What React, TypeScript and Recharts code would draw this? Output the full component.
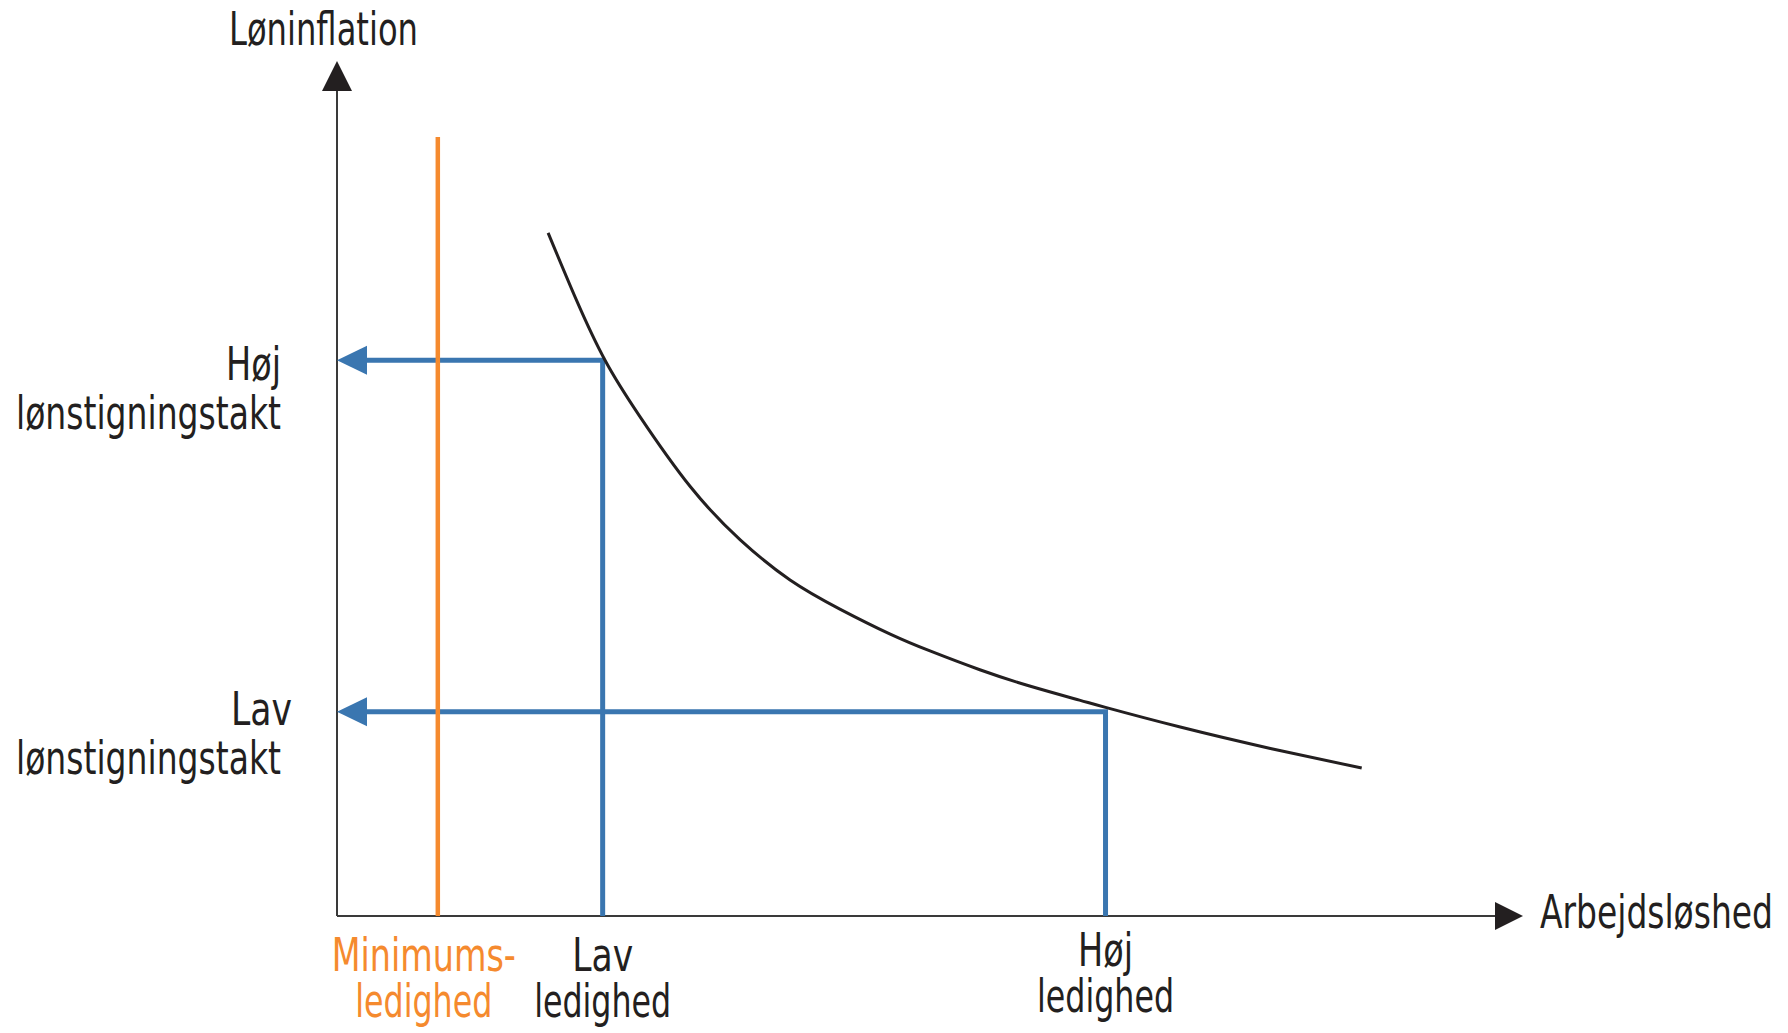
import { ComposedChart, Line, Scatter, XAxis, YAxis } from "recharts"

const W = 1788
const H = 1033
const FONT = "'Liberation Sans Narrow', 'DejaVu Sans Condensed', 'DejaVu Sans', sans-serif"
const FS = 46
const INK = "#231f20"
const BLUE = "#3a76b0"
const ORANGE = "#f58a2e"
const AXIS = "#3a3a3a"

// both axes run 0..100 (unitless diagram)
const minUnemployment = 8.5
const lowUnemployment = 22.4
const highUnemployment = 64.8
const highWage = 65.0
const lowWage = 23.9
const minLineTop = 91.1

// Phillips-type curve
const curveX = [17.8, 20.2, 22.6, 25.5, 29.8, 34.0, 38.2, 42.4, 46.6, 50.0, 54.2, 58.4, 62.6, 64.8, 71.1, 78.7, 86.4]
const curveY = [79.9, 72.0, 65.0, 58.5, 50.2, 44.0, 39.3, 35.9, 33.0, 31.0, 28.8, 26.9, 25.25, 24.4, 22.1, 19.6, 17.3]

const xTickValues = [minUnemployment, lowUnemployment, highUnemployment]
const xTickLabels = [
  ["Minimums-", "ledighed"],
  ["Lav", "ledighed"],
  ["Høj", "ledighed"],
]
const yTickValues = [lowWage, highWage]
const yTickLabels = [
  ["Lav", "lønstigningstakt"],
  ["Høj", "lønstigningstakt"],
]

// printed widths of the condensed face in the original
const textWidths: Record<string, number> = {
  "Løninflation": 189,
  "Arbejdsløshed": 233,
  "Minimums-": 184,
  "ledighed": 137,
  "Lav": 61,
  "Høj": 55,
  "lønstigningstakt": 265,
}

const curveData = curveX.map((x, i) => ({ x, y: curveY[i] }))
const yAxisData = [{ x: 0, y: 0 }, { x: 0, y: 97 }]
const xAxisData = [{ x: 0, y: 0 }, { x: 98, y: 0 }]
const minLineData = [{ x: minUnemployment, y: 0 }, { x: minUnemployment, y: minLineTop }]
const highWageData = [
  { x: 1.5, y: highWage },
  { x: lowUnemployment, y: highWage },
  { x: lowUnemployment, y: 0 },
]
const lowWageData = [
  { x: 1.5, y: lowWage },
  { x: highUnemployment, y: lowWage },
  { x: highUnemployment, y: 0 },
]

const Txt = ({ x, y, s, anchor = "start", color = INK }: any) => (
  <text
    x={x}
    y={y}
    textAnchor={anchor}
    fill={color}
    fontFamily={FONT}
    fontSize={FS}
    textLength={textWidths[s]}
    lengthAdjust="spacingAndGlyphs"
  >
    {s}
  </text>
)

const Arrow = (props: any) => {
  const { cx, cy, dir, color, len, half } = props
  if (cx == null || cy == null) return null
  let pts = ""
  if (dir === "up") pts = `${cx},${cy} ${cx - half},${cy + len} ${cx + half},${cy + len}`
  if (dir === "right") pts = `${cx},${cy} ${cx - len},${cy - half} ${cx - len},${cy + half}`
  if (dir === "left") pts = `${cx},${cy} ${cx + len},${cy - half} ${cx + len},${cy + half}`
  return <polygon points={pts} fill={color} />
}

const XTick = (props: any) => {
  const { x, y, payload } = props
  const i = xTickValues.indexOf(payload.value)
  if (i < 0) return null
  const color = i === 0 ? ORANGE : INK
  const cx = x + (i === 0 ? -14 : 0)
  const first = i === 2 ? 50 : 55
  return (
    <g>
      <Txt x={cx} y={y + first} s={xTickLabels[i][0]} anchor="middle" color={color} />
      <Txt x={cx} y={y + first + 46} s={xTickLabels[i][1]} anchor="middle" color={color} />
    </g>
  )
}

const YTick = (props: any) => {
  const { x, y, payload } = props
  const i = yTickValues.indexOf(payload.value)
  if (i < 0) return null
  const right = x - 56
  const firstDx = i === 0 ? 11 : 0
  const first = i === 0 ? 13 : 20
  return (
    <g>
      <Txt x={right + firstDx} y={y + first} s={yTickLabels[i][0]} anchor="end" />
      <Txt x={right} y={y + first + 49} s={yTickLabels[i][1]} anchor="end" />
    </g>
  )
}

export default function App() {
  return (
    <div style={{ position: "absolute", left: 0, top: 0, width: W, height: H, background: "#fff" }}>
      <ComposedChart width={W} height={H} margin={{ top: 61, right: 265, bottom: 0, left: 0 }}>
        <XAxis
          type="number"
          dataKey="x"
          domain={[0, 100]}
          ticks={xTickValues}
          interval={0}
          axisLine={false}
          tickLine={false}
          tickSize={0}
          tickMargin={0}
          height={117}
          tick={<XTick />}
        />
        <YAxis
          type="number"
          dataKey="y"
          domain={[0, 100]}
          ticks={yTickValues}
          interval={0}
          axisLine={false}
          tickLine={false}
          tickSize={0}
          tickMargin={0}
          width={337}
          tick={<YTick />}
        />
        <Line data={yAxisData} dataKey="y" type="linear" stroke={AXIS} strokeWidth={2} dot={false} activeDot={false} isAnimationActive={false} />
        <Line data={xAxisData} dataKey="y" type="linear" stroke={AXIS} strokeWidth={2} dot={false} activeDot={false} isAnimationActive={false} />
        <Line data={highWageData} dataKey="y" type="linear" stroke={BLUE} strokeWidth={5} strokeLinejoin="miter" dot={false} activeDot={false} isAnimationActive={false} />
        <Line data={lowWageData} dataKey="y" type="linear" stroke={BLUE} strokeWidth={5} strokeLinejoin="miter" dot={false} activeDot={false} isAnimationActive={false} />
        <Line data={minLineData} dataKey="y" type="linear" stroke={ORANGE} strokeWidth={4.5} dot={false} activeDot={false} isAnimationActive={false} />
        <Line data={curveData} dataKey="y" type="natural" stroke={INK} strokeWidth={3} dot={false} activeDot={false} isAnimationActive={false} />
        <Scatter
          data={[{ x: 0, y: 100 }]}
          dataKey="y"
          isAnimationActive={false}
          shape={(p: any) => <Arrow {...p} dir="up" color={INK} len={30} half={15} />}
        />
        <Scatter
          data={[{ x: 100, y: 0 }]}
          dataKey="y"
          isAnimationActive={false}
          shape={(p: any) => <Arrow {...p} dir="right" color={INK} len={28} half={14} />}
        />
        <Scatter
          data={[{ x: 0, y: highWage }, { x: 0, y: lowWage }]}
          dataKey="y"
          isAnimationActive={false}
          shape={(p: any) => <Arrow {...p} dir="left" color={BLUE} len={30} half={14.5} />}
        />
      </ComposedChart>
      <svg width={W} height={H} style={{ position: "absolute", left: 0, top: 0, pointerEvents: "none" }}>
        <Txt x={229} y={45} s="Løninflation" />
        <Txt x={1540} y={928} s="Arbejdsløshed" />
      </svg>
    </div>
  )
}
